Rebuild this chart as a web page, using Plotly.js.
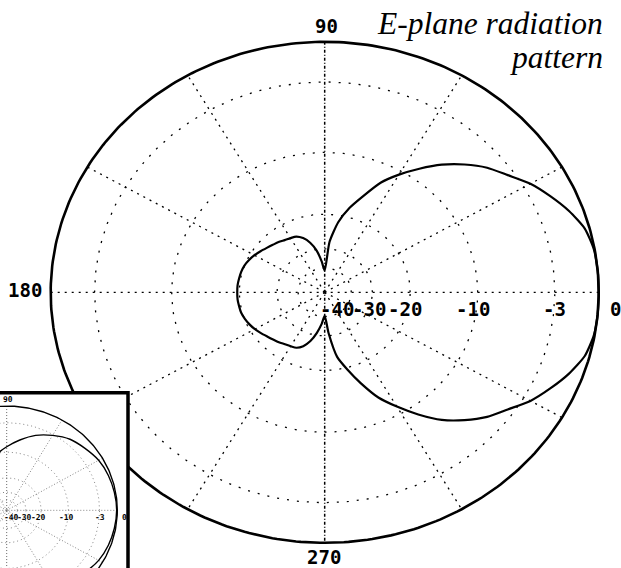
<!DOCTYPE html>
<html><head><meta charset="utf-8">
<script src="https://cdn.plot.ly/plotly-3.0.1.min.js"></script>
<style>html,body{margin:0;padding:0;background:#fff;} #chart{width:621px;height:568px;}</style>
</head><body><div id="chart"></div>
<script>
// ---- data ----
// main chart: E-plane pattern
const angleDeg = [0,5,10,15,20,25,30,35,40,45,50,55,60,65,70,75,80,85,
  90,95,100,105,110,115,120,125,130,135,140,145,150,155,160,165,170,175,
  180,185,190,195,200,205,210,215,220,225,230,235,240,245,250,255,260,265,
  270,275,280,285,290,295,300,305,310,315,320,325,330,335,340,345,350,355];
const gainDb = [0,0,-0.05,-0.3,-0.9,-1.65,-2.45,-3.5,-4.4,-5.6,-7.0,-8.7,-10.5,-12.5,-15.4,-18.1,-21.6,-27.5,
  -42,-36,-30.5,-27.2,-25.2,-24.1,-23.8,-23.5,-23.0,-22.6,-22.1,-21.5,-20.9,-20.4,-20.0,-19.8,-19.7,-19.6,
  -19.6,-19.6,-19.7,-19.8,-20.1,-20.5,-21.0,-21.6,-22.2,-22.7,-23.1,-23.6,-23.9,-24.2,-25.3,-27.5,-31.0,-35.5,
  -40.5,-31,-23,-19.6,-16.3,-13.2,-11.0,-8.9,-7.0,-5.6,-4.4,-3.5,-2.45,-1.65,-0.9,-0.3,-0.05,0];
// inset thumbnail: a broader pattern (only its right part is visible)
const insetAngleDeg = [0,10,20,30,40,50,60,70,80,90,100,110,120,130,140,150,160,170,
  180,190,200,210,220,230,240,250,260,270,280,290,300,310,320,330,340,350];
const insetGainDb = [-0.1,-0.2,-0.38,-0.7,-1.35,-2.0,-3.2,-4.6,-6.5,-8.5,-10.5,-12.5,-14.5,-16.5,-18,-19,-19.5,-20,
  -20,-20,-19.5,-19,-18,-16.5,-14.5,-12.5,-10.5,-8.5,-6.5,-4.6,-3.2,-2.0,-1.35,-0.7,-0.38,-0.2];
const ringDb = [-3,-10,-20,-30,-40];
const tickDb = [-40,-30,-20,-10,-3,0];
const tickText = ['-40','-30','-20','-10','-3','0'];
const spokeDeg = [30,60,120,150,210,240,300,330];
const axisDeg = [0,90,180,270];
const axisText = ['0','90','180','270'];
const titleLines = ['E-plane radiation','pattern'];

// ARRL log-periodic radial scale: every 2 dB -> x0.89
function rho(db){ return Math.pow(0.89, -db/2); }
const D2R = Math.PI/180;
function ring(r){ const x=[],y=[]; for(let a=0;a<=360;a+=1){ x.push(r*Math.cos(a*D2R)); y.push(r*Math.sin(a*D2R)); } return {x,y}; }

function buildTraces(xa, ya, s, angs, gains){
  const tr = [];
  const base = {type:'scatter', mode:'lines', xaxis:xa, yaxis:ya, hoverinfo:'skip'};
  ringDb.forEach(db => { const c = ring(rho(db));
    tr.push(Object.assign({}, base, {x:c.x, y:c.y, line:{color:s.grid, width:s.gw, dash:s.ringDash}})); });
  const sx=[], sy=[];
  spokeDeg.forEach(a => { sx.push(0, rho(0)*Math.cos(a*D2R), null); sy.push(0, rho(0)*Math.sin(a*D2R), null); });
  tr.push(Object.assign({}, base, {x:sx, y:sy, line:{color:s.grid, width:s.gw, dash:s.spokeDash}}));
  tr.push(Object.assign({}, base, {x:[rho(0)*Math.cos(axisDeg[0]*D2R), rho(0)*Math.cos(axisDeg[2]*D2R)],
    y:[0,0], line:{color:s.grid, width:s.gw, dash:s.spokeDash}}));
  tr.push(Object.assign({}, base, {x:[0,0], y:[rho(0)*Math.sin(axisDeg[1]*D2R), rho(0)*Math.sin(axisDeg[3]*D2R)],
    line:{color:s.vcol, width:s.vw, dash:s.vDash}}));
  const o = ring(rho(0));
  tr.push(Object.assign({}, base, {x:o.x, y:o.y, line:{color:'#000', width:s.ow}}));
  const px = angs.map((a,i)=>rho(gains[i])*Math.cos(a*D2R));
  const py = angs.map((a,i)=>rho(gains[i])*Math.sin(a*D2R));
  px.push(px[0]); py.push(py[0]);
  tr.push(Object.assign({}, base, {x:px, y:py, line:{color:'#000', width:s.pw, shape:'spline', smoothing:0.6}}));
  return tr;
}

const mainStyle = {grid:'#000', gw:1.3, ringDash:'2px,8px', spokeDash:'2px,5px', vcol:'#000', vw:1.5, vDash:'3px,2px,1px,2px', ow:2.6, pw:2.2};
const insetStyle = {grid:'#777', gw:0.9, ringDash:'1px,3px', spokeDash:'1px,2px', vcol:'#666', vw:1, vDash:'1px,2px', ow:1.4, pw:1.4};

const traces = buildTraces('x','y',mainStyle,angleDeg,gainDb)
  .concat(buildTraces('x2','y2',insetStyle,insetAngleDeg,insetGainDb));

const labFont = {family:'DejaVu Sans Mono', size:19, color:'#000', weight:700};
const tickNudge = [-14,-3,-5.5,-5,0,17];
const ann = [];
function addLabels(xr, yr, k){
  const f = Object.assign({}, labFont, {size: labFont.size*k});
  tickDb.forEach((db,i) => ann.push({xref:xr, yref:yr, x:rho(db), y:0, text:tickText[i], showarrow:false,
    xanchor:'center', yanchor:'middle', xshift:tickNudge[i]*k, yshift:-17*k, font:f, borderpad:0}));
  ann.push({xref:xr, yref:yr, x:0, y:rho(0)*Math.sin(axisDeg[1]*D2R), text:axisText[1], showarrow:false,
    xanchor:'center', yanchor:'middle', xshift:2*k, yshift:16*k, font:f, borderpad:0});
  ann.push({xref:xr, yref:yr, x:0, y:rho(0)*Math.sin(axisDeg[3]*D2R), text:axisText[3], showarrow:false,
    xanchor:'center', yanchor:'middle', xshift:-1*k, yshift:-14*k, font:f, borderpad:0});
  ann.push({xref:xr, yref:yr, x:rho(0)*Math.cos(axisDeg[2]*D2R), y:0, text:axisText[2], showarrow:false,
    xanchor:'right', yanchor:'middle', xshift:-8*k, yshift:2*k, font:f, borderpad:0});
}
addLabels('x','y',1);
addLabels('x2','y2',0.42);
const titleFont = {family:'Liberation Serif', size:31.5, style:'italic', color:'#000'};
ann.push({xref:'paper', yref:'paper', x:604/621, y:1-23/568, text:titleLines[0], showarrow:false,
  xanchor:'right', yanchor:'middle', font:titleFont, borderpad:0});
ann.push({xref:'paper', yref:'paper', x:604/621, y:1-58/568, text:titleLines[1], showarrow:false,
  xanchor:'right', yanchor:'middle', font:titleFont, borderpad:0});

const insetTop = (568-392.8)/568, insetRight = 128/621;
const layout = {
  width:621, height:568, margin:{l:0,r:0,t:0,b:0}, paper_bgcolor:'#fff', plot_bgcolor:'rgba(0,0,0,0)', showlegend:false,
  xaxis:{domain:[0,1], range:[-1.1850,1.0814], visible:false},
  yaxis:{domain:[0,1], range:[-1.1006,1.1669], visible:false},
  xaxis2:{domain:[0,insetRight], range:[-0.0606,1.0967], anchor:'y2', visible:false},
  yaxis2:{domain:[0,insetTop], range:[-0.553,1.127], anchor:'x2', visible:false},
  shapes:[
    {type:'rect', xref:'x2', yref:'y2', x0:-5, x1:5, y0:-5, y1:5, fillcolor:'#fff', line:{width:0}, layer:'below'},
    {type:'rect', xref:'paper', yref:'paper', x0:-0.05, x1:insetRight, y0:-0.05, y1:insetTop,
      fillcolor:'rgba(0,0,0,0)', line:{color:'#000', width:3.5}, layer:'above'}
  ],
  annotations: ann
};
Plotly.newPlot('chart', traces, layout, {staticPlot:true, displayModeBar:false});
</script></body></html>
